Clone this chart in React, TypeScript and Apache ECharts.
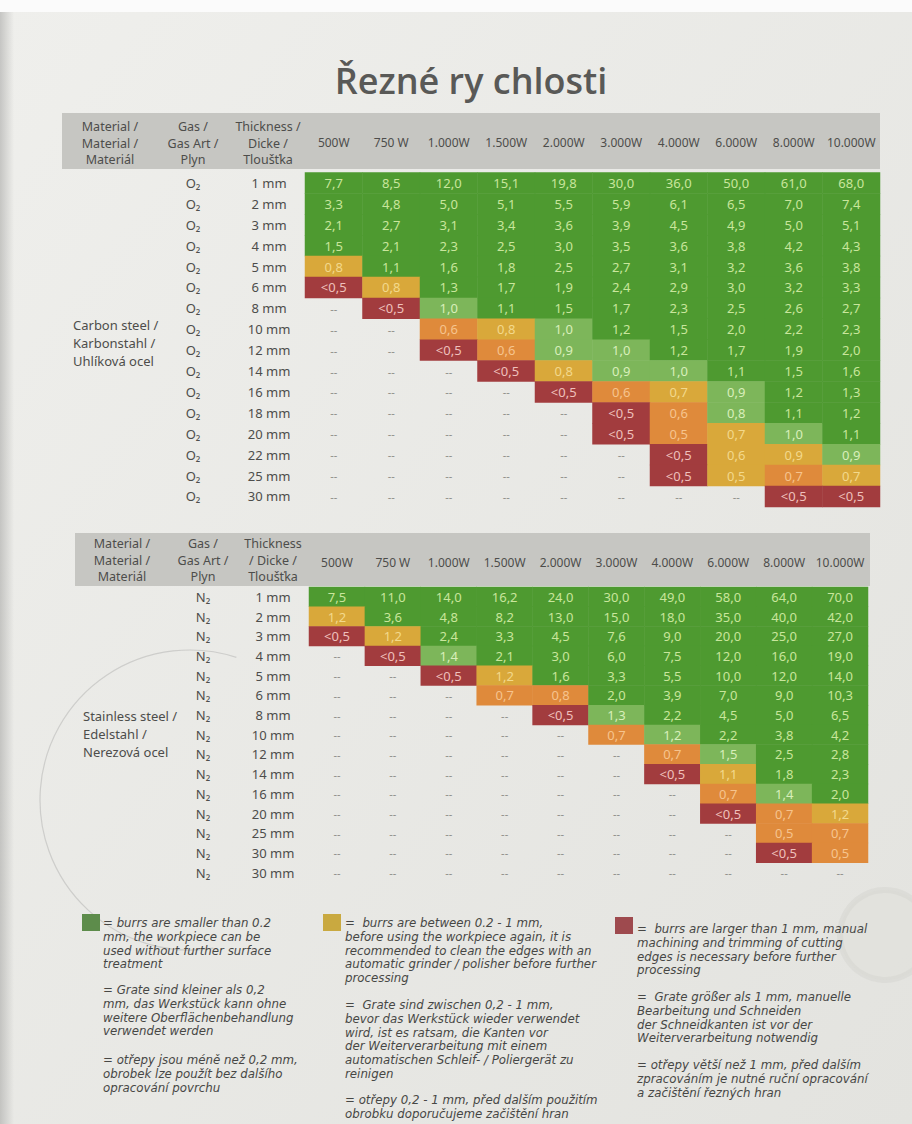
import React, { useEffect, useRef } from "react";
import * as echarts from "echarts";

// ---------- DATA ----------
const powers = ["500W", "750 W", "1.000W", "1.500W", "2.000W", "3.000W", "4.000W", "6.000W", "8.000W", "10.000W"];

const carbonThickness = ["1 mm", "2 mm", "3 mm", "4 mm", "5 mm", "6 mm", "8 mm", "10 mm", "12 mm", "14 mm", "16 mm", "18 mm", "20 mm", "22 mm", "25 mm", "30 mm"];
const carbonGas = "O₂";
const carbonValues: string[][] = [
  ["7,7", "8,5", "12,0", "15,1", "19,8", "30,0", "36,0", "50,0", "61,0", "68,0"],
  ["3,3", "4,8", "5,0", "5,1", "5,5", "5,9", "6,1", "6,5", "7,0", "7,4"],
  ["2,1", "2,7", "3,1", "3,4", "3,6", "3,9", "4,5", "4,9", "5,0", "5,1"],
  ["1,5", "2,1", "2,3", "2,5", "3,0", "3,5", "3,6", "3,8", "4,2", "4,3"],
  ["0,8", "1,1", "1,6", "1,8", "2,5", "2,7", "3,1", "3,2", "3,6", "3,8"],
  ["<0,5", "0,8", "1,3", "1,7", "1,9", "2,4", "2,9", "3,0", "3,2", "3,3"],
  ["--", "<0,5", "1,0", "1,1", "1,5", "1,7", "2,3", "2,5", "2,6", "2,7"],
  ["--", "--", "0,6", "0,8", "1,0", "1,2", "1,5", "2,0", "2,2", "2,3"],
  ["--", "--", "<0,5", "0,6", "0,9", "1,0", "1,2", "1,7", "1,9", "2,0"],
  ["--", "--", "--", "<0,5", "0,8", "0,9", "1,0", "1,1", "1,5", "1,6"],
  ["--", "--", "--", "--", "<0,5", "0,6", "0,7", "0,9", "1,2", "1,3"],
  ["--", "--", "--", "--", "--", "<0,5", "0,6", "0,8", "1,1", "1,2"],
  ["--", "--", "--", "--", "--", "<0,5", "0,5", "0,7", "1,0", "1,1"],
  ["--", "--", "--", "--", "--", "--", "<0,5", "0,6", "0,9", "0,9"],
  ["--", "--", "--", "--", "--", "--", "<0,5", "0,5", "0,7", "0,7"],
  ["--", "--", "--", "--", "--", "--", "--", "--", "<0,5", "<0,5"],
];
// burr class: G < 0.2 (dark green), L (light green), Y / O 0.2-1 mm, R > 1 mm, - none
const carbonBurr = [
  "GGGGGGGGGG", "GGGGGGGGGG", "GGGGGGGGGG", "GGGGGGGGGG",
  "YGGGGGGGGG", "RYGGGGGGGG", "-RLGGGGGGG", "--OYLGGGGG",
  "--ROLLGGGG", "---RYLLGGG", "----ROYLGG", "-----ROLGG",
  "-----ROYLG", "------RYYL", "------RYOY", "--------RR",
];

const stainlessThickness = ["1 mm", "2 mm", "3 mm", "4 mm", "5 mm", "6 mm", "8 mm", "10 mm", "12 mm", "14 mm", "16 mm", "20 mm", "25 mm", "30 mm", "30 mm"];
const stainlessGas = "N₂";
const stainlessValues: string[][] = [
  ["7,5", "11,0", "14,0", "16,2", "24,0", "30,0", "49,0", "58,0", "64,0", "70,0"],
  ["1,2", "3,6", "4,8", "8,2", "13,0", "15,0", "18,0", "35,0", "40,0", "42,0"],
  ["<0,5", "1,2", "2,4", "3,3", "4,5", "7,6", "9,0", "20,0", "25,0", "27,0"],
  ["--", "<0,5", "1,4", "2,1", "3,0", "6,0", "7,5", "12,0", "16,0", "19,0"],
  ["--", "--", "<0,5", "1,2", "1,6", "3,3", "5,5", "10,0", "12,0", "14,0"],
  ["--", "--", "--", "0,7", "0,8", "2,0", "3,9", "7,0", "9,0", "10,3"],
  ["--", "--", "--", "--", "<0,5", "1,3", "2,2", "4,5", "5,0", "6,5"],
  ["--", "--", "--", "--", "--", "0,7", "1,2", "2,2", "3,8", "4,2"],
  ["--", "--", "--", "--", "--", "--", "0,7", "1,5", "2,5", "2,8"],
  ["--", "--", "--", "--", "--", "--", "<0,5", "1,1", "1,8", "2,3"],
  ["--", "--", "--", "--", "--", "--", "--", "0,7", "1,4", "2,0"],
  ["--", "--", "--", "--", "--", "--", "--", "<0,5", "0,7", "1,2"],
  ["--", "--", "--", "--", "--", "--", "--", "--", "0,5", "0,7"],
  ["--", "--", "--", "--", "--", "--", "--", "--", "<0,5", "0,5"],
  ["--", "--", "--", "--", "--", "--", "--", "--", "--", "--"],
];
const stainlessBurr = [
  "GGGGGGGGGG", "YGGGGGGGGG", "RYGGGGGGGG", "-RLGGGGGGG",
  "--RYGGGGGG", "---OOGGGGG", "----RLGGGG", "-----OLGGG",
  "------OLGG", "------RYGG", "-------OLG", "-------ROY",
  "--------OO", "--------RO", "----------",
];

const carbonMaterial = "Carbon steel /\nKarbonstahl /\nUhlíková ocel";
const stainlessMaterial = "Stainless steel /\nEdelstahl /\nNerezová ocel";
const headerMaterial = "Material /\nMaterial /\nMateriál";
const headerGas = "Gas /\nGas Art /\nPlyn";
const headerThick1 = "Thickness /\nDicke /\nTloušťka";
const headerThick2 = "Thickness\n/ Dicke /\nTloušťka";
const title = "Řezné ry chlosti";

const legendGreen = [
  "= burrs are smaller than 0.2\nmm, the workpiece can be\nused without further surface\ntreatment",
  "= Grate sind kleiner als 0,2\nmm, das Werkstück kann ohne\nweitere Oberflächenbehandlung\nverwendet werden",
  "= otřepy jsou méně než 0,2 mm,\nobrobek lze použít bez dalšího\nopracování povrchu",
];
const legendYellow = [
  "=  burrs are between 0.2 - 1 mm,\nbefore using the workpiece again, it is\nrecommended to clean the edges with an\nautomatic grinder / polisher before further\nprocessing",
  "=  Grate sind zwischen 0,2 - 1 mm,\nbevor das Werkstück wieder verwendet\nwird, ist es ratsam, die Kanten vor\nder Weiterverarbeitung mit einem\nautomatischen Schleif- / Poliergerät zu\nreinigen",
  "= otřepy 0,2 - 1 mm, před dalším použitím\nobrobku doporučujeme začištění hran",
];
const legendRed = [
  "=  burrs are larger than 1 mm, manual\nmachining and trimming of cutting\nedges is necessary before further\nprocessing",
  "=  Grate größer als 1 mm, manuelle\nBearbeitung und Schneiden\nder Schneidkanten ist vor der\nWeiterverarbeitung notwendig",
  "= otřepy větší než 1 mm, před dalším\nzpracováním je nutné ruční opracování\na začištění řezných hran",
];

// ---------- STYLE ----------
const classCode: Record<string, number> = { "-": 0, G: 1, L: 2, Y: 3, O: 4, R: 5 };
const cellColors = ["rgba(0,0,0,0)", "#4e9a30", "#7db65a", "#d9a83a", "#df8a3b", "#a23c3e"];
const textColors = ["#8e8e8a", "#c9e69c", "#d9efbb", "#f3d98c", "#f6c48e", "#efc0bc"];
const FONT = "'Noto Sans', 'Open Sans', sans-serif";
const LEGEND_FONT = "'DejaVu Sans', 'Noto Sans', sans-serif";
const TEXT = "#4d4d4b";

function buildData(burr: string[]) {
  const out: any[] = [];
  burr.forEach((row, r) => {
    row.split("").forEach((ch, c) => {
      out.push([c, r, classCode[ch]]);
    });
  });
  return out;
}

const rich: any = {};
textColors.forEach((col, i) => {
  rich["c" + i] = { color: col, fontSize: i === 0 ? 11 : 13, fontFamily: FONT };
});

function makeFormatter(values: string[][]) {
  return (p: any) => {
    const [c, r, k] = p.value;
    return `{c${k}|${values[r][c]}}`;
  };
}

export default function App() {
  const ref = useRef<HTMLDivElement>(null);
  useEffect(() => {
    if (!ref.current) return;
    const chart = echarts.init(ref.current, null, { renderer: "svg" });

    const g1 = { left: 305, right: 32, top: 172.5, height: 334.4 };
    const g2 = { left: 309, right: 44, top: 587, height: 295.5 };

    const catAxisCommon = {
      type: "category",
      axisLine: { show: false },
      axisTick: { show: false },
      splitLine: { show: false },
    };

    const legendBlock = (x: number, ys: number[], texts: string[]) =>
      texts.flatMap((t, i) =>
        t.split("\n").map((line, j) => ({
          type: "text",
          x,
          y: ys[i] + j * 13.8,
          z: 10,
          style: {
            text: line,
            fill: "#474745",
            fontFamily: LEGEND_FONT,
            fontStyle: "italic",
            fontSize: 11.8,
            align: "left",
            verticalAlign: "middle",
          },
        }))
      );

    const headerText = (x: number, y: number, t: string) => ({
      type: "text",
      x,
      y,
      z: 10,
      style: {
        text: t,
        fill: TEXT,
        fontFamily: FONT,
        fontSize: 12.5,
        lineHeight: 16.5,
        align: "center",
        verticalAlign: "middle",
      },
    });

    const option: any = {
      animation: false,
      backgroundColor: {
        type: "linear", x: 0, y: 0, x2: 1, y2: 1,
        colorStops: [
          { offset: 0, color: "#efefec" },
          { offset: 1, color: "#e3e3df" },
        ],
      },
      grid: [
        { left: g1.left, right: g1.right, top: g1.top, height: g1.height, outerBoundsMode: "none", containLabel: false },
        { left: g2.left, right: g2.right, top: g2.top, height: g2.height, outerBoundsMode: "none", containLabel: false },
      ],
      xAxis: [
        {
          ...catAxisCommon, gridIndex: 0, position: "top", data: powers,
          axisLabel: { color: TEXT, fontFamily: FONT, fontSize: 12, margin: 30, verticalAlign: "middle", interval: 0 },
        },
        {
          ...catAxisCommon, gridIndex: 1, position: "top", data: powers,
          axisLabel: { color: TEXT, fontFamily: FONT, fontSize: 12, margin: 25, verticalAlign: "middle", interval: 0 },
        },
      ],
      yAxis: [
        {
          ...catAxisCommon, gridIndex: 0, position: "left", inverse: true, data: carbonThickness,
          axisLabel: { color: TEXT, fontFamily: FONT, fontSize: 13, margin: 36, align: "center", interval: 0 },
        },
        {
          ...catAxisCommon, gridIndex: 0, position: "left", offset: 0, inverse: true, data: carbonThickness.map(() => carbonGas),
          axisLabel: { color: TEXT, fontFamily: FONT, fontSize: 13, margin: 112, align: "center", interval: 0 },
        },
        {
          ...catAxisCommon, gridIndex: 1, position: "left", inverse: true, data: stainlessThickness,
          axisLabel: { color: TEXT, fontFamily: FONT, fontSize: 13, margin: 36, align: "center", interval: 0 },
        },
        {
          ...catAxisCommon, gridIndex: 1, position: "left", offset: 0, inverse: true, data: stainlessThickness.map(() => stainlessGas),
          axisLabel: { color: TEXT, fontFamily: FONT, fontSize: 13, margin: 106, align: "center", interval: 0 },
        },
      ],
      visualMap: {
        type: "piecewise",
        show: false,
        dimension: 2,
        seriesIndex: [0, 1],
        pieces: cellColors.map((color, i) => ({ value: i, color })),
      },
      series: [
        {
          type: "heatmap",
          xAxisIndex: 0,
          yAxisIndex: 0,
          data: buildData(carbonBurr),
          label: { show: true, formatter: makeFormatter(carbonValues), rich },
          itemStyle: { borderWidth: 0 },
          emphasis: { disabled: true },
        },
        {
          type: "heatmap",
          xAxisIndex: 1,
          yAxisIndex: 2,
          data: buildData(stainlessBurr),
          label: { show: true, formatter: makeFormatter(stainlessValues), rich },
          itemStyle: { borderWidth: 0 },
          emphasis: { disabled: true },
        },
      ],
      graphic: [
        // top white strip + left shade
        { type: "rect", z: -20, shape: { x: 0, y: 0, width: 912, height: 12 }, style: { fill: "#fbfbfb" } },
        {
          type: "rect", z: -20, shape: { x: 0, y: 12, width: 14, height: 1112 },
          style: {
            fill: {
              type: "linear", x: 0, y: 0, x2: 1, y2: 0,
              colorStops: [{ offset: 0, color: "rgba(170,170,168,0.6)" }, { offset: 1, color: "rgba(170,170,168,0)" }],
            },
          },
        },
        // faint gear outlines
        { type: "arc", z: -15, shape: { cx: 190, cy: 800, r: 150, startAngle: Math.PI * 0.45, endAngle: Math.PI * 1.6 }, style: { stroke: "rgba(140,140,138,0.3)", fill: "none", lineWidth: 1.2 } },
        { type: "circle", z: -15, shape: { cx: 885, cy: 935, r: 45 }, style: { stroke: "rgba(205,205,200,0.35)", fill: "rgba(218,218,213,0.25)", lineWidth: 6 } },
        // title
        {
          type: "text", x: 471, y: 80, z: 10,
          style: { text: title, fill: "#595957", fontFamily: "'Open Sans', 'Noto Sans', sans-serif", fontWeight: 600, fontSize: 36, align: "center", verticalAlign: "middle" },
        },
        // header bands
        { type: "rect", z: -10, shape: { x: 62, y: 113, width: 818, height: 56 }, style: { fill: "#c6c6c2" } },
        { type: "rect", z: -10, shape: { x: 75, y: 533, width: 795, height: 53 }, style: { fill: "#c6c6c2" } },
        headerText(110, 143, headerMaterial),
        headerText(193, 143, headerGas),
        headerText(268, 143, headerThick1),
        headerText(122, 560, headerMaterial),
        headerText(203, 560, headerGas),
        headerText(273, 560, headerThick2),
        // material labels
        { type: "text", x: 73, y: 316, z: 10, style: { text: carbonMaterial, fill: TEXT, fontFamily: FONT, fontSize: 13, lineHeight: 18, align: "left", verticalAlign: "top" } },
        { type: "text", x: 83, y: 707, z: 10, style: { text: stainlessMaterial, fill: TEXT, fontFamily: FONT, fontSize: 13, lineHeight: 18, align: "left", verticalAlign: "top" } },
        // legend squares
        { type: "rect", z: 10, shape: { x: 82, y: 914, width: 18, height: 17 }, style: { fill: "#5d8c4b" } },
        { type: "rect", z: 10, shape: { x: 323, y: 914, width: 18, height: 17 }, style: { fill: "#c9a940" } },
        { type: "rect", z: 10, shape: { x: 615, y: 917, width: 18, height: 17 }, style: { fill: "#9e4a4e" } },
        ...legendBlock(103, [923, 990, 1060], legendGreen),
        ...legendBlock(345, [923, 1005, 1100], legendYellow),
        ...legendBlock(637, [929, 997, 1065], legendRed),
      ],
    };
    chart.setOption(option);
    return () => chart.dispose();
  }, []);
  return (
    <div
      ref={ref}
      style={{ position: "absolute", left: 0, top: 0, width: 912, height: 1124 }}
    />
  );
}
